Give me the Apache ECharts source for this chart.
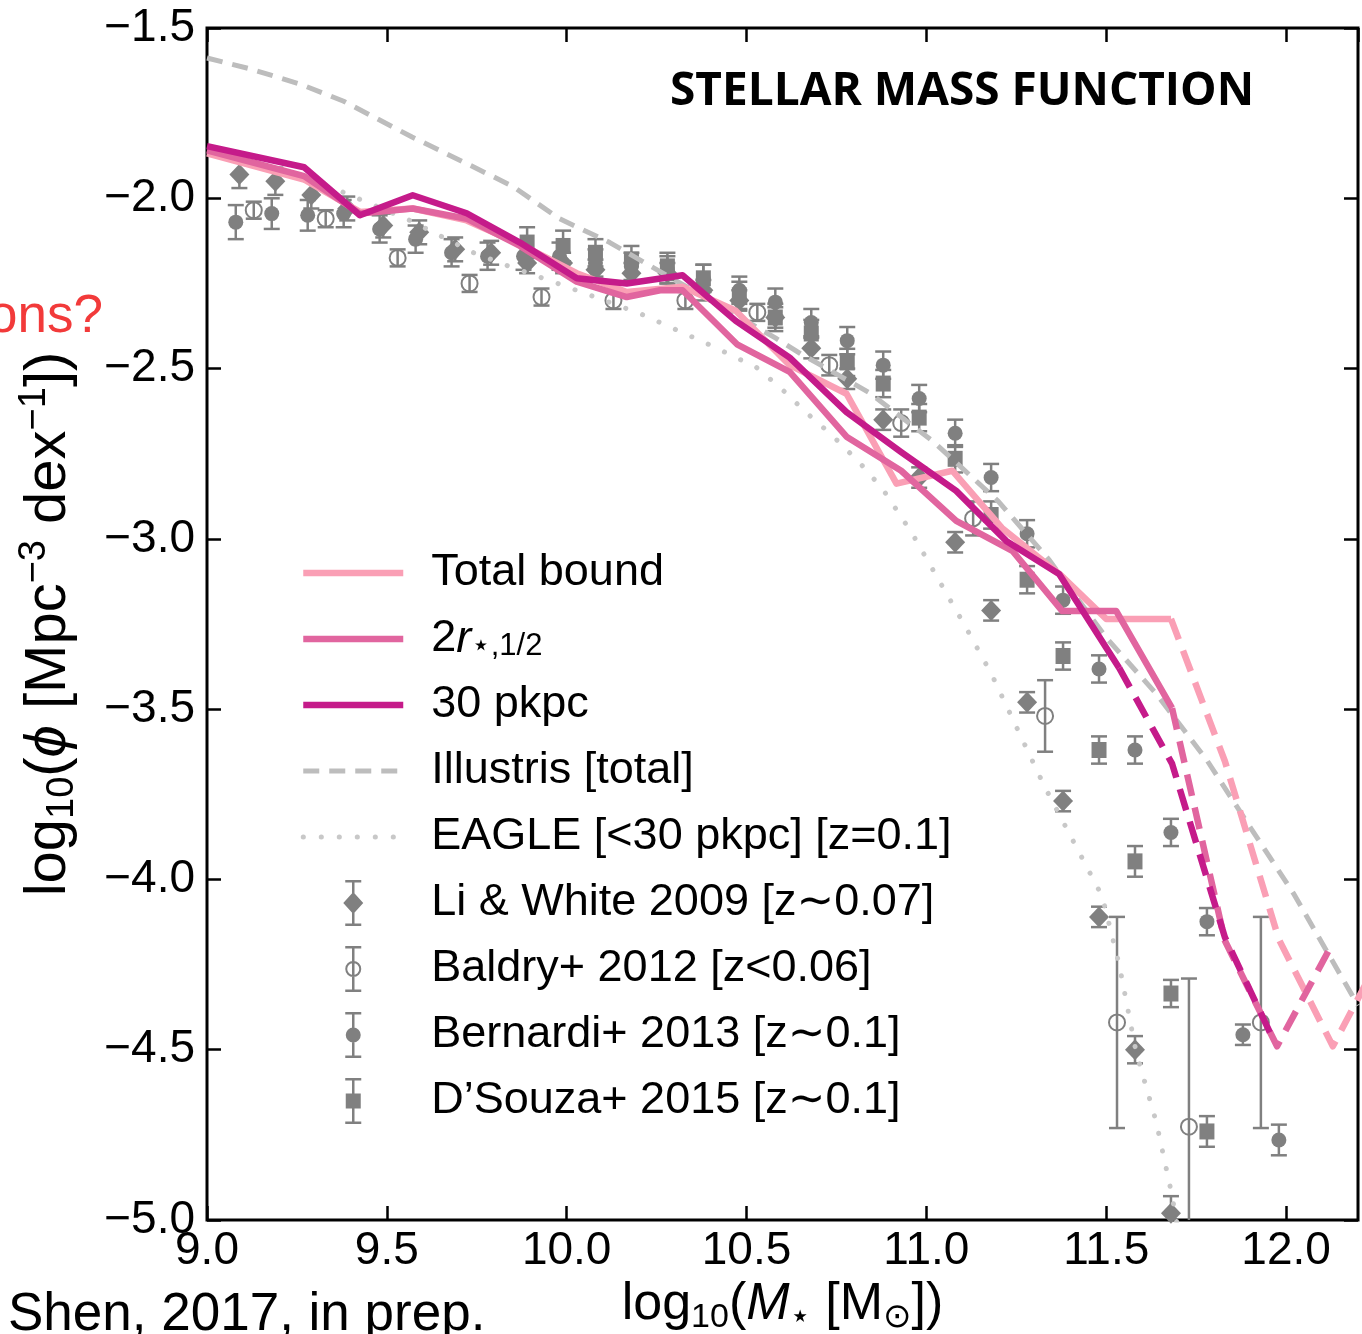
<!DOCTYPE html>
<html>
<head>
<meta charset="utf-8">
<script src="https://cdn.jsdelivr.net/npm/echarts@6/dist/echarts.min.js"></script>
<style>
  html, body { margin: 0; padding: 0; background: #fff; }
  #chart { width: 1362px; height: 1334px; }
</style>
</head>
<body>
<div id="chart"></div>
<script>
// Simulated stellar mass functions: [log10 M*, log10 phi]
const totalBound = [[9.00,-1.868],[9.27,-1.945],[9.425,-2.04],[9.572,-2.03],[9.722,-2.065],[9.87,-2.135],[10.028,-2.22],[10.167,-2.275],[10.322,-2.26],[10.47,-2.33],[10.62,-2.49],[10.778,-2.574],[10.917,-2.838],[11.072,-2.80],[11.21,-2.968],[11.37,-3.103],[11.50,-3.235],[11.68,-3.235]];
const totalBoundTail = [[11.68,-3.235],[11.83,-3.653],[11.98,-4.176],[12.13,-4.49],[12.28,-4.19]];

const twoRHalf = [[9.00,-1.859],[9.27,-1.935],[9.425,-2.045],[9.572,-2.03],[9.722,-2.06],[9.87,-2.14],[10.028,-2.245],[10.167,-2.29],[10.26,-2.27],[10.322,-2.27],[10.475,-2.43],[10.62,-2.51],[10.778,-2.70],[10.93,-2.80],[11.083,-2.947],[11.239,-3.035],[11.378,-3.212],[11.528,-3.212],[11.683,-3.497]];
const twoRHalfTail = [[11.683,-3.497],[11.83,-4.18],[11.975,-4.49],[12.128,-4.19]];

const aperture30 = [[9.00,-1.847],[9.27,-1.909],[9.425,-2.05],[9.572,-1.991],[9.722,-2.044],[9.87,-2.13],[10.028,-2.235],[10.167,-2.25],[10.322,-2.226],[10.47,-2.36],[10.62,-2.468],[10.778,-2.628],[10.93,-2.745],[11.083,-2.859],[11.222,-3.006],[11.369,-3.103],[11.536,-3.379]];
const aperture30Tail = [[11.536,-3.379],[11.683,-3.66],[11.83,-4.17],[11.96,-4.46]];

const illustris = [[9.00,-1.588],[9.12,-1.62],[9.26,-1.665],[9.38,-1.715],[9.57,-1.82],[9.72,-1.897],[9.85,-1.965],[9.98,-2.06],[10.12,-2.13],[10.35,-2.27],[10.58,-2.41],[10.65,-2.456],[10.84,-2.57],[11.02,-2.715],[11.2,-2.89],[11.34,-3.06],[11.5,-3.29],[11.64,-3.456],[11.78,-3.65],[11.89,-3.83],[12.02,-4.04],[12.2,-4.37]];

const eagle = [[9.378,-1.982],[9.564,-2.065],[9.739,-2.159],[9.833,-2.197],[9.975,-2.25],[10.203,-2.338],[10.389,-2.426],[10.528,-2.497],[10.597,-2.559],[10.669,-2.632],[10.739,-2.697],[10.814,-2.776],[10.878,-2.853],[10.961,-2.985],[11.036,-3.124],[11.111,-3.262],[11.181,-3.397],[11.328,-3.726],[11.419,-3.909],[11.489,-4.05],[11.536,-4.25],[11.583,-4.506],[11.639,-4.712],[11.681,-4.918],[11.70,-5.03]];

// Observed mass functions: [log10 M*, log10 phi, error below, error above]
const liWhite2009 = [[9.09,-1.93,0.04,0.04],[9.19,-1.95,0.04,0.04],[9.29,-1.99,0.04,0.04],[9.39,-2.03,0.035,0.035],[9.49,-2.08,0.035,0.035],[9.59,-2.10,0.035,0.035],[9.69,-2.15,0.035,0.035],[9.79,-2.16,0.035,0.035],[9.89,-2.19,0.03,0.03],[9.99,-2.19,0.03,0.03],[10.08,-2.21,0.03,0.03],[10.18,-2.22,0.03,0.03],[10.28,-2.22,0.03,0.03],[10.38,-2.27,0.03,0.03],[10.48,-2.30,0.03,0.03],[10.58,-2.35,0.03,0.03],[10.68,-2.44,0.03,0.03],[10.78,-2.53,0.03,0.03],[10.88,-2.65,0.03,0.03],[10.98,-2.82,0.03,0.03],[11.08,-3.01,0.03,0.03],[11.18,-3.21,0.03,0.03],[11.28,-3.48,0.03,0.03],[11.38,-3.77,0.03,0.03],[11.48,-4.11,0.03,0.03],[11.58,-4.50,0.04,0.04],[11.68,-4.98,0.06,0.05]];

const baldry2012 = [[9.13,-2.035,0.025,0.025],[9.33,-2.06,0.025,0.025],[9.53,-2.175,0.025,0.025],[9.73,-2.25,0.025,0.025],[9.93,-2.29,0.025,0.025],[10.13,-2.30,0.025,0.025],[10.33,-2.30,0.025,0.025],[10.53,-2.335,0.025,0.025],[10.73,-2.49,0.03,0.03],[10.93,-2.66,0.04,0.04],[11.13,-2.94,0.05,0.05],[11.33,-3.52,0.105,0.105],[11.53,-4.42,0.31,0.31],[11.73,-4.726,1.0,0.435],[11.93,-4.42,0.31,0.31]];

const bernardi2013 = [[9.08,-2.07,0.05,0.05],[9.18,-2.045,0.045,0.045],[9.28,-2.05,0.045,0.045],[9.38,-2.045,0.04,0.04],[9.48,-2.09,0.04,0.04],[9.58,-2.12,0.04,0.04],[9.68,-2.16,0.04,0.04],[9.78,-2.17,0.04,0.04],[9.88,-2.17,0.04,0.04],[9.98,-2.17,0.04,0.04],[10.08,-2.19,0.04,0.04],[10.18,-2.20,0.04,0.04],[10.28,-2.21,0.04,0.04],[10.38,-2.235,0.04,0.04],[10.48,-2.27,0.04,0.04],[10.58,-2.305,0.04,0.04],[10.68,-2.365,0.04,0.04],[10.78,-2.418,0.04,0.04],[10.88,-2.49,0.04,0.04],[10.98,-2.588,0.04,0.04],[11.08,-2.69,0.04,0.04],[11.18,-2.82,0.04,0.04],[11.28,-2.985,0.04,0.04],[11.38,-3.18,0.04,0.04],[11.48,-3.382,0.04,0.04],[11.58,-3.62,0.04,0.04],[11.68,-3.862,0.04,0.04],[11.78,-4.124,0.04,0.04],[11.88,-4.456,0.03,0.03],[11.98,-4.765,0.045,0.045]];

const dsouza2015 = [[9.89,-2.13,0.045,0.045],[9.99,-2.14,0.045,0.045],[10.08,-2.16,0.04,0.04],[10.18,-2.18,0.04,0.04],[10.28,-2.20,0.04,0.04],[10.38,-2.235,0.04,0.04],[10.48,-2.285,0.04,0.04],[10.58,-2.35,0.04,0.04],[10.68,-2.397,0.04,0.04],[10.78,-2.482,0.04,0.04],[10.88,-2.544,0.04,0.04],[10.98,-2.644,0.04,0.04],[11.08,-2.765,0.04,0.04],[11.18,-2.93,0.04,0.04],[11.28,-3.12,0.04,0.04],[11.38,-3.344,0.04,0.04],[11.48,-3.62,0.04,0.04],[11.58,-3.947,0.045,0.045],[11.68,-4.335,0.04,0.04],[11.78,-4.74,0.045,0.045]];

// Axis ranges
const xRange = [9.0, 12.2];
const yRange = [-5.0, -1.5];
const tickStep = 0.5;

// Series names as shown in the legend
const names = {
  total: 'Total bound',
  half: '2r',
  ap30: '30 pkpc',
  illustris: 'Illustris [total]',
  eagle: 'EAGLE [<30 pkpc] [z=0.1]',
  li: 'Li & White 2009 [z\u223c0.07]',
  baldry: 'Baldry+ 2012 [z<0.06]',
  bernardi: 'Bernardi+ 2013 [z\u223c0.1]',
  dsouza: 'D\u2019Souza+ 2015 [z\u223c0.1]'
};

const GRAY = '#808080';
const C_TOTAL = '#fa9fb5';
const C_HALF = '#e1659f';
const C_30 = '#c51b8a';
const C_ILL = '#bdbdbd';
const C_EAGLE = '#c8c8c8';

const SANS = "'Liberation Sans', Arial, 'DejaVu Sans', sans-serif";

function lineSeries(name, data, color, width, dash, z) {
  return {
    type: 'line', name, data, z,
    showSymbol: false, symbol: 'none', silent: true, animation: false,
    lineStyle: { color, width, type: dash || 'solid', cap: dash && dash[0] < 1 ? 'round' : 'butt', join: 'round' }
  };
}

// Vertical error bars with caps, clipped to the plotting area
function errorBars(name, rows) {
  return {
    type: 'custom', name, z: 2, silent: true, animation: false,
    itemStyle: { color: GRAY },
    data: rows.map(r => [r[0], r[1], r[1] - r[2], r[1] + r[3]]),
    renderItem(params, api) {
      const x = api.value(0);
      const lo = api.coord([x, api.value(2)]);
      const hi = api.coord([x, api.value(3)]);
      const cs = params.coordSys;
      const yTop = Math.max(hi[1], cs.y);
      const yBot = Math.min(lo[1], cs.y + cs.height);
      const cx = lo[0];
      const st = { stroke: GRAY, lineWidth: 2.5 };
      const kids = [{ type: 'line', shape: { x1: cx, y1: yTop, x2: cx, y2: yBot }, style: st }];
      if (hi[1] >= cs.y) kids.push({ type: 'line', shape: { x1: cx - 8, y1: hi[1], x2: cx + 8, y2: hi[1] }, style: st });
      if (lo[1] <= cs.y + cs.height) kids.push({ type: 'line', shape: { x1: cx - 8, y1: lo[1], x2: cx + 8, y2: lo[1] }, style: st });
      return { type: 'group', children: kids };
    }
  };
}

function markers(name, rows, symbol, size, style) {
  return {
    type: 'scatter', name, z: 3, silent: true, animation: false,
    symbol, symbolSize: size,
    itemStyle: Object.assign({ color: GRAY, opacity: 1 }, style || {}),
    data: rows.map(r => [r[0], r[1]])
  };
}

// Legend glyphs: marker with an error bar
const BAR = 'M13.75 0H16.25V46H13.75Z M7 0H23V2.5H7Z M7 43.5H23V46H7Z';
const ICON_DIAMOND = 'path://' + BAR + ' M15 12L25 23L15 34L5 23Z';
const ICON_RING = 'path://' + BAR + ' M7 23A8 8 0 1 1 23 23A8 8 0 1 1 7 23Z M9 23A6 6 0 1 0 21 23A6 6 0 1 0 9 23Z';
const ICON_DOT = 'path://' + BAR + ' M7.5 23A7.5 7.5 0 1 1 22.5 23A7.5 7.5 0 1 1 7.5 23Z';
const ICON_SQUARE = 'path://' + BAR + ' M7.5 15.5H22.5V30.5H7.5Z';

const hideSym = { opacity: 0 };
const TICK = { inside: true, length: 14, lineStyle: { color: '#000', width: 2.5 } };

const option = {
  animation: false,
  backgroundColor: '#fff',
  title: {
    text: 'STELLAR MASS FUNCTION',
    left: 665, top: 64,
    textStyle: { fontFamily: "'Open Sans', 'Noto Sans', sans-serif", fontWeight: 'bold', fontSize: 46, color: '#000' }
  },
  grid: {
    left: 207, right: 4, top: 28, bottom: 114,
    outerBoundsMode: 'none', containLabel: false,
    show: true, borderColor: '#000', borderWidth: 3, backgroundColor: 'transparent'
  },
  legend: {
    orient: 'vertical', left: 300, top: 550, padding: 0,
    itemWidth: 100, itemHeight: 46, itemGap: 20,
    selectedMode: false,
    textStyle: {
      fontFamily: SANS, fontSize: 45, color: '#000', lineHeight: 46, padding: [0, 0, 0, 23],
      rich: {
        n: { fontFamily: SANS, fontSize: 45, lineHeight: 46, color: '#000' },
        i: { fontFamily: SANS, fontSize: 45, lineHeight: 46, fontStyle: 'italic', color: '#000' },
        s: { fontFamily: SANS, fontSize: 31, lineHeight: 31, verticalAlign: 'bottom', color: '#000' }
      }
    },
    formatter: n => n === names.half ? '{n|2}{i|r}{s|\u22c6,1/2}' : n,
    data: [
      { name: names.total, lineStyle: { width: 6.5 }, itemStyle: hideSym },
      { name: names.half, lineStyle: { width: 6.5 }, itemStyle: hideSym },
      { name: names.ap30, lineStyle: { width: 6.5 }, itemStyle: hideSym },
      { name: names.illustris, lineStyle: { width: 5 }, itemStyle: hideSym },
      { name: names.eagle, lineStyle: { width: 5 }, itemStyle: hideSym },
      { name: names.li, icon: ICON_DIAMOND },
      { name: names.baldry, icon: ICON_RING },
      { name: names.bernardi, icon: ICON_DOT },
      { name: names.dsouza, icon: ICON_SQUARE }
    ]
  },
  xAxis: [
    {
      type: 'value', min: xRange[0], max: xRange[1], interval: tickStep, position: 'bottom',
      axisLine: { show: false }, axisTick: TICK, splitLine: { show: false },
      axisLabel: { fontFamily: SANS, fontSize: 46, color: '#000', margin: 8, showMaxLabel: false, formatter: v => v.toFixed(1) },
      name: '{n|log}{s|10}{n|(}{i|M}{s|\u22c6}{n| [M}{s|\u2299}{n|])}',
      nameLocation: 'middle', nameGap: 52,
      nameTextStyle: {
        fontFamily: SANS, fontSize: 52, color: '#000',
        rich: {
          n: { fontFamily: SANS, fontSize: 52, lineHeight: 60, color: '#000' },
          i: { fontFamily: SANS, fontSize: 52, lineHeight: 60, fontStyle: 'italic', color: '#000' },
          s: { fontFamily: SANS, fontSize: 34, lineHeight: 34, verticalAlign: 'bottom', color: '#000' }
        }
      }
    },
    {
      type: 'value', min: xRange[0], max: xRange[1], interval: tickStep, position: 'top',
      axisLine: { show: false }, axisLabel: { show: false }, splitLine: { show: false }, axisTick: TICK
    }
  ],
  yAxis: [
    {
      type: 'value', min: yRange[0], max: yRange[1], interval: tickStep, position: 'left',
      axisLine: { show: false }, axisTick: TICK, splitLine: { show: false },
      axisLabel: { fontFamily: SANS, fontSize: 46, color: '#000', margin: 12, formatter: v => (v < 0 ? '\u2212' : '') + Math.abs(v).toFixed(1) },
      name: '{n|log}{s|10}{n|(}{i|\u03d5}{n| [Mpc}{p|\u22123}{n| dex}{p|\u22121}{n|])}',
      nameLocation: 'middle', nameRotate: 90, nameGap: 125,
      nameTextStyle: {
        fontFamily: SANS, fontSize: 58, color: '#000',
        rich: {
          n: { fontFamily: SANS, fontSize: 58, lineHeight: 66, color: '#000' },
          i: { fontFamily: SANS, fontSize: 58, lineHeight: 66, fontStyle: 'italic', color: '#000' },
          s: { fontFamily: SANS, fontSize: 38, lineHeight: 38, verticalAlign: 'bottom', color: '#000' },
          p: { fontFamily: SANS, fontSize: 38, lineHeight: 38, verticalAlign: 'top', color: '#000' }
        }
      }
    },
    {
      type: 'value', min: yRange[0], max: yRange[1], interval: tickStep, position: 'right',
      axisLine: { show: false }, axisLabel: { show: false }, splitLine: { show: false }, axisTick: TICK
    }
  ],
  graphic: [
    {
      type: 'text', x: 103, y: 344, z: 100,
      style: { text: 'ons?', align: 'right', verticalAlign: 'bottom', fill: '#f23a3a', font: "53px 'Liberation Sans', Arial, sans-serif" }
    },
    {
      type: 'text', x: 8, y: 1342, z: 100,
      style: { text: 'Shen, 2017, in prep.', align: 'left', verticalAlign: 'bottom', fill: '#000', font: "53px 'Liberation Sans', Arial, sans-serif" }
    }
  ],
  series: [
    errorBars(names.li, liWhite2009),
    errorBars(names.baldry, baldry2012),
    errorBars(names.bernardi, bernardi2013),
    errorBars(names.dsouza, dsouza2015),
    markers(names.li, liWhite2009, 'diamond', [20, 21]),
    markers(names.baldry, baldry2012, 'circle', 16, { color: 'rgba(255,255,255,0)', borderColor: GRAY, borderWidth: 2 }),
    markers(names.bernardi, bernardi2013, 'circle', 15),
    markers(names.dsouza, dsouza2015, 'rect', [15, 16]),
    lineSeries(names.illustris, illustris, C_ILL, 5, [16, 10], 4),
    lineSeries(names.eagle, eagle, C_EAGLE, 5, [0.1, 17.9], 4),
    lineSeries(names.total, totalBound, C_TOTAL, 6.5, null, 5),
    lineSeries(names.total, totalBoundTail, C_TOTAL, 6.5, [22, 12], 5),
    lineSeries(names.half, twoRHalf, C_HALF, 6.5, null, 6),
    lineSeries(names.half, twoRHalfTail, C_HALF, 6.5, [22, 12], 6),
    lineSeries(names.ap30, aperture30, C_30, 6.5, null, 7),
    lineSeries(names.ap30, aperture30Tail, C_30, 6.5, [22, 12], 7)
  ]
};

const chart = echarts.init(document.getElementById('chart'), null, { renderer: 'canvas' });
chart.setOption(option);
</script>
</body>
</html>
